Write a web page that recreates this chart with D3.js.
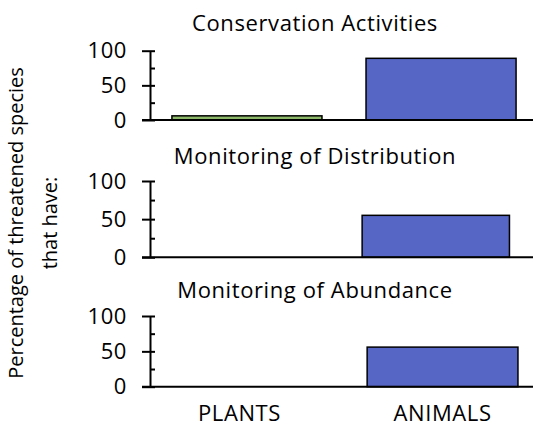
<!DOCTYPE html>
<html>
<head>
<meta charset="utf-8">
<script src="https://cdn.jsdelivr.net/npm/d3@7"></script>
<style>
  body { margin: 0; background: #fff; }
  svg { display: block; }
</style>
</head>
<body>
<svg id="chart"></svg>
<script>
// data
const categories = ["PLANTS", "ANIMALS"];
const panelTitles = ["Conservation Activities", "Monitoring of Distribution", "Monitoring of Abundance"];
const conservationValues = [6, 89];
const distributionValues = [0, 55];
const abundanceValues = [0, 56];
const yTicks = [0, 50, 100];
const yMinorTicks = [25, 75];
const yLabelLines = ["Percentage of threatened species", "that have:"];

const width = 533, height = 428;
const font = "'Open Sans', sans-serif";
const fontSize = "22px";
const spacing = "0.6px";

const svg = d3.select("#chart")
  .attr("width", width)
  .attr("height", height);

// per-panel layout (top/bottom of y range, right end of x range)
const panels = [
  { title: panelTitles[0], values: conservationValues, y0: 120, y1: 50.7, xEnd: 538, titleY: 31 },
  { title: panelTitles[1], values: distributionValues, y0: 257.3, y1: 181, xEnd: 531, titleY: 164 },
  { title: panelTitles[2], values: abundanceValues, y0: 386.7, y1: 316, xEnd: 540, titleY: 298 }
];
const axisX = 150;
const colors = ["#8db86a", "#5566c4"];

function styleText(sel) {
  sel.attr("font-family", font)
    .attr("font-size", fontSize)
    .attr("letter-spacing", spacing)
    .attr("fill", "#000");
}

panels.forEach((p, pi) => {
  const x = d3.scaleBand()
    .domain(categories)
    .range([axisX, p.xEnd])
    .paddingInner(0.227)
    .paddingOuter(0.113);

  const y = d3.scaleLinear()
    .domain([0, 100])
    .range([p.y0, p.y1]);

  const g = svg.append("g");

  // title
  g.append("text")
    .attr("x", 315)
    .attr("y", p.titleY)
    .attr("text-anchor", "middle")
    .call(styleText)
    .text(p.title);

  // bars
  g.selectAll("rect.bar")
    .data(categories.map((c, i) => ({ c, v: p.values[i], i })))
    .join("rect")
      .attr("class", "bar")
      .attr("x", d => x(d.c))
      .attr("width", x.bandwidth())
      .attr("y", d => y(d.v))
      .attr("height", d => y(0) - y(d.v))
      .attr("fill", d => colors[d.i])
      .attr("stroke", "#000")
      .attr("stroke-width", 1.5)
      .attr("display", d => d.v > 0 ? null : "none");

  // baseline
  g.append("line")
    .attr("x1", axisX - 8)
    .attr("x2", width)
    .attr("y1", y(0))
    .attr("y2", y(0))
    .attr("stroke", "#000")
    .attr("stroke-width", 2);

  // y axis, major ticks crossing the line
  const yAxis = g.append("g")
    .attr("transform", `translate(${axisX},0)`)
    .call(d3.axisLeft(y).tickValues(yTicks).tickSize(8).tickSizeOuter(0).tickPadding(15));
  yAxis.select(".domain").attr("stroke-width", 2);
  yAxis.selectAll(".tick line").attr("x1", 5).attr("stroke-width", 2);
  yAxis.selectAll(".tick text").call(styleText);

  // minor ticks on the right side
  const yMinor = g.append("g")
    .attr("transform", `translate(${axisX},0)`)
    .call(d3.axisRight(y).tickValues(yMinorTicks).tickSize(5).tickFormat(""));
  yMinor.select(".domain").remove();
  yMinor.selectAll(".tick line").attr("stroke-width", 2);

  // category labels under last panel
  if (pi === panels.length - 1) {
    const xAxis = g.append("g")
      .attr("transform", `translate(0,${y(0)})`)
      .call(d3.axisBottom(x).tickSize(0).tickPadding(19));
    xAxis.select(".domain").remove();
    xAxis.selectAll(".tick text").call(styleText);
    xAxis.selectAll(".tick text").filter(d => d === categories[0]).attr("dx", -8);
  }
});

// y axis title, two lines
const yTitle = svg.append("text")
  .attr("transform", "translate(0,223) rotate(-90)")
  .attr("text-anchor", "middle")
  .attr("font-family", font)
  .attr("font-size", "20px")
  .attr("fill", "#000");
yTitle.selectAll("tspan")
  .data(yLabelLines)
  .join("tspan")
    .attr("x", 0)
    .attr("y", (d, i) => i === 0 ? 23 : 57)
    .text(d => d);
</script>
</body>
</html>
